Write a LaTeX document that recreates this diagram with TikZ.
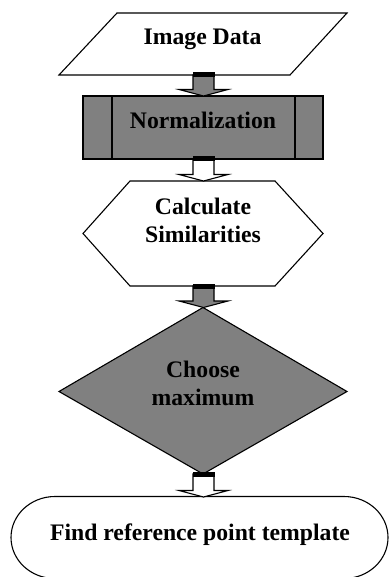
\documentclass[tikz,border=0pt]{standalone}
\usepackage{fontspec}
\setmainfont{Liberation Serif}
\usetikzlibrary{calc}
\definecolor{boxgray}{HTML}{808080}
\tikzset{
  outline/.style={draw=black,line width=1.1pt,line join=miter},
  lbl/.style={inner sep=0pt,anchor=base,font=\fontsize{23.7}{28}\selectfont\bfseries},
}
\newcommand\blockarr[3]{%
  \path[outline,fill=#3] ($(#1)+(-10.5,0)$) -- ($(#2)+(-10.5,6.5)$) -- ($(#2)+(-24.5,6.5)$) -- (#2)
    -- ($(#2)+(24.5,6.5)$) -- ($(#2)+(10.5,6.5)$) -- ($(#1)+(10.5,0)$) -- cycle;
  \fill[black] ($(#1)+(-11,2.5)$) rectangle ($(#1)+(11,-2.5)$);
}
\begin{document}
\begin{tikzpicture}[x=1pt,y=1pt]
\useasboundingbox (0,0) rectangle (390,-577);
% Image Data (parallelogram)
\path[outline,fill=white] (117,-13) -- (347,-13) -- (290,-75) -- (59,-75) -- cycle;
\node[lbl] (img) at (202.5,-45) {Image Data};
\coordinate (imgB) at (203.5,-75);
% Normalization (predefined process)
\path[outline,fill=boxgray] (83,-96) rectangle (323,-159);
\draw[outline] (112,-96) -- (112,-159) (295,-96) -- (295,-159);
\node[lbl] (norm) at (203,-129) {Normalization};
\coordinate (normT) at (203.5,-96);
\coordinate (normB) at (203.5,-159);
% Calculate Similarities (hexagon)
\path[outline,fill=white] (130,-181) -- (275,-181) -- (323,-233.5) -- (275,-286) -- (130,-286) -- (83,-233.5) -- cycle;
\node[lbl,align=center] (calc) at (203,-242) {Calculate\\Similarities};
\coordinate (calcT) at (203.5,-181);
\coordinate (calcB) at (203.5,-286);
% Choose maximum (diamond)
\path[outline,fill=boxgray] (203,-307.5) -- (347,-391.5) -- (203,-474) -- (59,-391.5) -- cycle;
\node[lbl,align=center] (choose) at (203,-405) {Choose\\maximum};
\coordinate (chT) at (203.5,-307.5);
\coordinate (chB) at (203.5,-474);
% Find reference point template (terminal)
\path[outline,fill=white] (55,-496.5) -- (344,-496.5) arc[start angle=90,end angle=-90,x radius=44,y radius=41]
  -- (55,-578.5) arc[start angle=270,end angle=90,x radius=44,y radius=41] -- cycle;
\node[lbl] (find) at (200,-540) {Find reference point template};
\coordinate (findT) at (203.5,-497);
% connectors (block arrows)
\blockarr{imgB}{normT}{boxgray}
\blockarr{normB}{calcT}{white}
\blockarr{calcB}{chT}{boxgray}
\blockarr{chB}{findT}{white}
\end{tikzpicture}
\end{document}
